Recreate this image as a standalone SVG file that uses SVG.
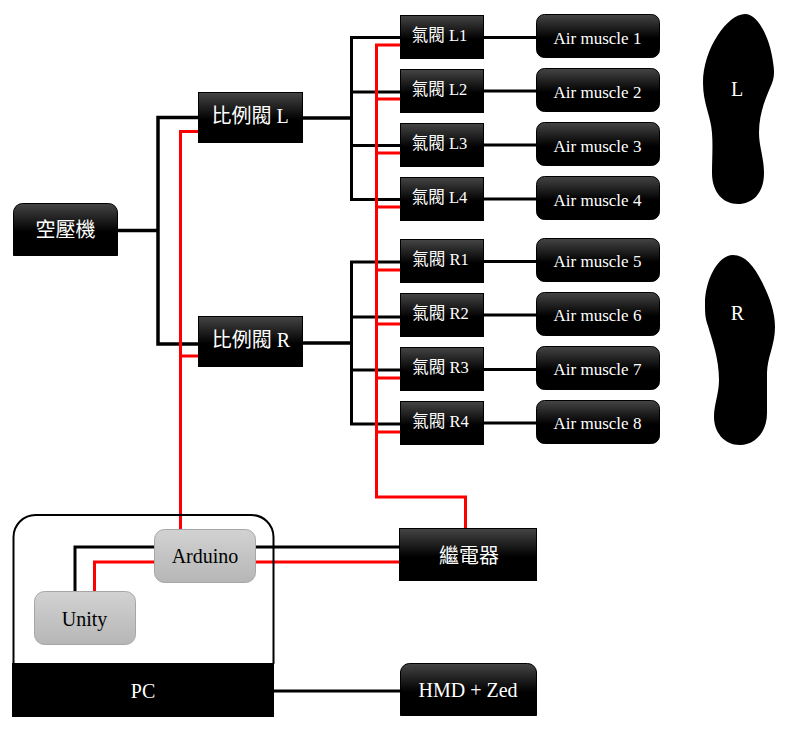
<svg xmlns="http://www.w3.org/2000/svg" width="792" height="734" viewBox="0 0 792 734">
<style>
text{font-family:"Liberation Serif","Noto Sans CJK TC",serif;text-anchor:middle;fill:#fff}
.dark{fill:url(#darkGrad);stroke:#000;stroke-width:1}
.light{fill:url(#lightGrad);stroke:#a6a6a6;stroke-width:1}
.s17{font-size:16.5px}
.s20{font-size:20px}
.m{font-size:17px}
.dk{fill:#000}
.k,.k2,.r{fill:none;stroke-linejoin:miter}
.k{stroke:#000;stroke-width:3}
.k2{stroke:#000;stroke-width:3.5}
.r{stroke:#f00;stroke-width:3}
</style>
<defs>
<linearGradient id="darkGrad" x1="0" y1="0" x2="0" y2="1"><stop offset="0" stop-color="#454545"/><stop offset="0.55" stop-color="#000"/><stop offset="1" stop-color="#000"/></linearGradient>
<linearGradient id="lightGrad" x1="0" y1="0" x2="0" y2="1"><stop offset="0" stop-color="#d2d2d2"/><stop offset="1" stop-color="#b6b6b6"/></linearGradient>
</defs>
<rect width="792" height="734" fill="#fff"/>
<g id="connectors">
<path class="k2" d="M118 230.500H158M198 117.500H158V344H198"/>
<path class="k2" d="M303 118H351.500M303 343H351.500"/>
<path class="k" d="M400 37.500H351.500V199.500H400M351.500 92H400M351.500 145.500H400"/>
<path class="k" d="M400 262H351.500V424H400M351.500 317H400M351.500 370H400"/>
<path class="k" d="M484 37.500H536M484 91H536M484 145H536M484 199H536M484 261.500H536M484 315H536M484 369.500H536M484 423H536"/>
<path class="k" d="M75 591V547H154M256 547H399M274 691H400"/>
<path class="r" d="M198 131.500H180.500V530M180.500 356H198"/>
<path class="r" d="M400 45H376.500V497H465.500V528M376.500 99H400M376.500 153H400M376.500 207H400M376.500 270H400M376.500 324H400M376.500 378H400M376.500 432H400"/>
<path class="r" d="M94.500 591V562H154M256 562H400"/>
</g>
<g id="compressor"><path class="dark" d="M13.500 255.500V213A9 9 0 0 1 22.500 203.500H108.500A9 9 0 0 1 117.500 213V255.500Z"/><text class="s20" x="65.500" y="237">空壓機</text></g>
<g id="prop-l"><rect class="dark" x="198.500" y="92.500" width="104" height="50"/><text class="s20" x="250" y="123">比例閥 L</text></g>
<g id="prop-r"><rect class="dark" x="198.500" y="316.500" width="104" height="50"/><text class="s20" x="251" y="347">比例閥 R</text></g>
<g id="valve-l1"><rect class="dark" x="400.500" y="15.500" width="83" height="43"/><text class="s17" x="439.500" y="41">氣閥 L1</text></g>
<g id="valve-l2"><rect class="dark" x="400.500" y="69.500" width="83" height="43"/><text class="s17" x="439.500" y="95">氣閥 L2</text></g>
<g id="valve-l3"><rect class="dark" x="400.500" y="123.500" width="83" height="43"/><text class="s17" x="439.500" y="149">氣閥 L3</text></g>
<g id="valve-l4"><rect class="dark" x="400.500" y="177.500" width="83" height="43"/><text class="s17" x="439.500" y="203">氣閥 L4</text></g>
<g id="valve-r1"><rect class="dark" x="400.500" y="239.500" width="83" height="43"/><text class="s17" x="440.500" y="265">氣閥 R1</text></g>
<g id="valve-r2"><rect class="dark" x="400.500" y="293.500" width="83" height="43"/><text class="s17" x="440.500" y="319">氣閥 R2</text></g>
<g id="valve-r3"><rect class="dark" x="400.500" y="347.500" width="83" height="43"/><text class="s17" x="440.500" y="373">氣閥 R3</text></g>
<g id="valve-r4"><rect class="dark" x="400.500" y="401.500" width="83" height="43"/><text class="s17" x="440.500" y="427">氣閥 R4</text></g>
<g id="muscle-1"><rect class="dark" x="536.500" y="14.500" width="123" height="43" rx="8"/><text class="m" x="597.500" y="44">Air muscle 1</text></g>
<g id="muscle-2"><rect class="dark" x="536.500" y="68.500" width="123" height="43" rx="8"/><text class="m" x="597.500" y="98">Air muscle 2</text></g>
<g id="muscle-3"><rect class="dark" x="536.500" y="122.500" width="123" height="43" rx="8"/><text class="m" x="597.500" y="152">Air muscle 3</text></g>
<g id="muscle-4"><rect class="dark" x="536.500" y="176.500" width="123" height="43" rx="8"/><text class="m" x="597.500" y="206">Air muscle 4</text></g>
<g id="muscle-5"><rect class="dark" x="536.500" y="238.500" width="123" height="43" rx="8"/><text class="m" x="597.500" y="267">Air muscle 5</text></g>
<g id="muscle-6"><rect class="dark" x="536.500" y="292.500" width="123" height="43" rx="8"/><text class="m" x="597.500" y="321">Air muscle 6</text></g>
<g id="muscle-7"><rect class="dark" x="536.500" y="346.500" width="123" height="43" rx="8"/><text class="m" x="597.500" y="375">Air muscle 7</text></g>
<g id="muscle-8"><rect class="dark" x="536.500" y="400.500" width="123" height="43" rx="8"/><text class="m" x="597.500" y="429">Air muscle 8</text></g>
<g id="sole-l"><path class="dk" d="M745 14C758 14 770 38 773 62C775 74 774 80 770 88C764 102 759 116 759 133C759 146 764 158 764 173C764 194 752 204 738 204C723 204 712 192 712 173C712 160 713 146 712 133C711 116 703 104 703 83C703 48 728 14 745 14Z"/><text class="s20" x="737" y="96">L</text></g>
<g id="sole-r"><path class="dk" d="M733 255C745 255 754 266 762 282C770 298 775 312 775 327C775 345 767 358 767 373C767 388 767 400 767 413C767 432 755 445 740 445C724 445 714 432 714 417C714 404 719 394 719 380C719 358 712 340 708 326C705 318 705 312 705 303C705 282 717 255 733 255Z"/><text class="s20" x="737.500" y="320">R</text></g>
<g id="pc"><path d="M13.500 664V537A22 22 0 0 1 35.500 515H251.500A22 22 0 0 1 273.500 537V664" fill="none" stroke="#000" stroke-width="2"/><rect class="dk" x="12" y="663" width="262" height="54"/><text class="s20" x="143" y="698">PC</text></g>
<g id="arduino"><rect class="light" x="154.500" y="529.500" width="101" height="53" rx="10"/><text class="s20" x="205" y="563" style="fill:#000">Arduino</text></g>
<g id="unity"><rect class="light" x="34.500" y="591.500" width="101" height="53" rx="10"/><text class="s20" x="84.500" y="626" style="fill:#000">Unity</text></g>
<g id="relay"><rect class="dark" x="399.500" y="528.500" width="137" height="52"/><text class="s20" x="469" y="563">繼電器</text></g>
<g id="hmd"><path class="dark" d="M400.500 715.500V672A9 9 0 0 1 409.500 663.500H527.500A9 9 0 0 1 536.500 672V715.500Z"/><text class="s20" x="468" y="697">HMD + Zed</text></g>
</svg>
